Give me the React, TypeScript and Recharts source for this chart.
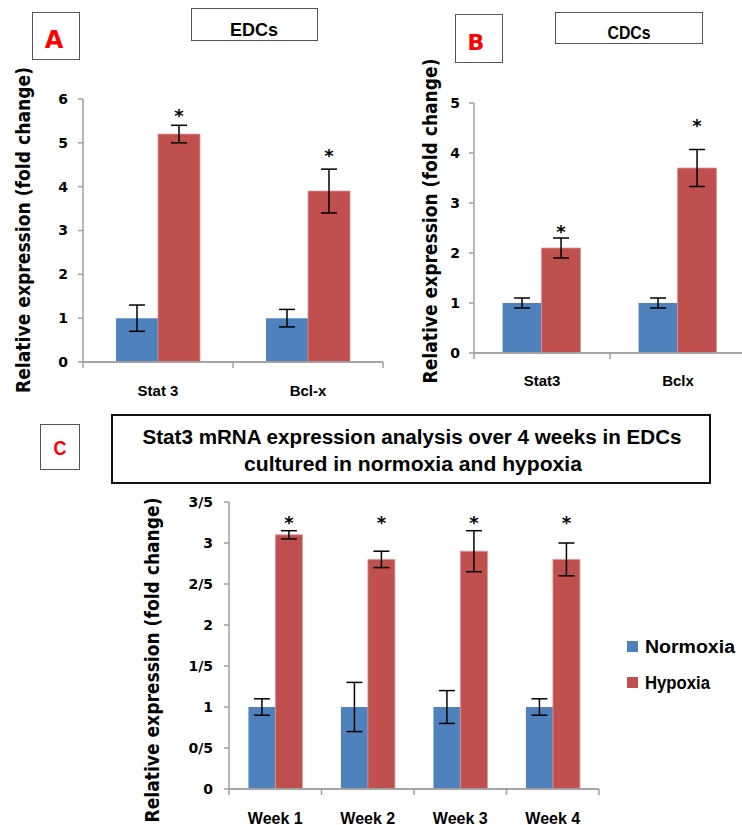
import React from "react";
import {
  BarChart,
  Bar,
  XAxis,
  YAxis,
  ErrorBar,
  LabelList,
  Legend,
  ReferenceLine,
} from "recharts";

// panel A - EDCs
const edcGenes = ["Stat 3", "Bcl-x"];
const edcNormoxia = [1, 1];
const edcNormoxiaErr = [0.3, 0.2];
const edcHypoxia = [5.2, 3.9];
const edcHypoxiaErr = [0.2, 0.5];
const edcStars = [5.7, 4.8];
const edcTicks = [0, 1, 2, 3, 4, 5, 6];

// panel B - CDCs
const cdcGenes = ["Stat3", "Bclx"];
const cdcNormoxia = [1, 1];
const cdcNormoxiaErr = [0.1, 0.1];
const cdcHypoxia = [2.1, 3.7];
const cdcHypoxiaErr = [0.2, 0.37];
const cdcStars = [2.5, 4.62];
const cdcTicks = [0, 1, 2, 3, 4, 5];

// panel C - Stat3 over 4 weeks
const weeks = ["Week 1", "Week 2", "Week 3", "Week 4"];
const weekNormoxia = [1, 1, 1, 1];
const weekNormoxiaErr = [0.1, 0.3, 0.2, 0.1];
const weekHypoxia = [3.1, 2.8, 2.9, 2.8];
const weekHypoxiaErr = [0.05, 0.1, 0.25, 0.2];
const weekStars = [3.29, 3.29, 3.29, 3.29];
const weekTicks = [0, 0.5, 1, 1.5, 2, 2.5, 3, 3.5];
const weekTickLabels = ["0", "0/5", "1", "1/5", "2", "2/5", "3", "3/5"];

const seriesNames = ["Normoxia", "Hypoxia"];

const BLUE = "#4f81bd";
const RED = "#c0504d";
const AXIS = "#a0a0a0";
const VERDANA = "'DejaVu Sans', Verdana, sans-serif";
const CALIBRI = "'Liberation Sans', Arial, sans-serif";

type Row = {
  name: string;
  norm: number;
  normErr: number;
  hyp: number;
  hypErr: number;
  star: number;
};

const buildRows = (
  names: string[],
  norm: number[],
  normErr: number[],
  hyp: number[],
  hypErr: number[],
  stars: number[]
): Row[] =>
  names.map((name, i) => ({
    name,
    norm: norm[i],
    normErr: normErr[i],
    hyp: hyp[i],
    hypErr: hypErr[i],
    star: stars[i],
  }));

const edcData = buildRows(edcGenes, edcNormoxia, edcNormoxiaErr, edcHypoxia, edcHypoxiaErr, edcStars);
const cdcData = buildRows(cdcGenes, cdcNormoxia, cdcNormoxiaErr, cdcHypoxia, cdcHypoxiaErr, cdcStars);
const weekData = buildRows(weeks, weekNormoxia, weekNormoxiaErr, weekHypoxia, weekHypoxiaErr, weekStars);

const starContent = (rows: Row[]) => (props: any) => {
  const { x, y, width, height, index } = props;
  const row = rows[index];
  if (!row || typeof y !== "number" || !height) return null;
  const base = y + height;
  const py = base - (row.star * height) / row.hyp;
  return (
    <text
      x={x + width / 2}
      y={py + 10}
      textAnchor="middle"
      fontSize={18}
      fontWeight="bold"
      fontFamily={VERDANA}
      fill="#000"
    >
      *
    </text>
  );
};

// category label plus the tick marks on the category boundaries (Excel style)
const catTick = (dy: number, size: number, band: number, count: number) => (props: any) => {
  const { x, y, payload, index } = props;
  const left = x - band / 2;
  const right = x + band / 2;
  const marks = `M${left},${y}V${y + 6}` + (index === count - 1 ? `M${right},${y}V${y + 6}` : "");
  return (
    <g>
      <path d={marks} stroke={AXIS} strokeWidth={1.5} fill="none" />
      <text
        x={x}
        y={y + dy}
        textAnchor="middle"
        dominantBaseline="central"
        fontSize={size}
        fontWeight="bold"
        fontFamily={CALIBRI}
        fill="#000"
      >
        {payload.value}
      </text>
    </g>
  );
};

const yLabel = (cx: number, cy: number, len: number) => () => (
  <text
    x={cx}
    y={cy}
    transform={`rotate(-90 ${cx} ${cy})`}
    textAnchor="middle"
    dominantBaseline="central"
    fontSize={20}
    fontWeight="bold"
    fontFamily={VERDANA}
    fill="#000"
    textLength={len}
    lengthAdjust="spacingAndGlyphs"
  >
    Relative expression (fold change)
  </text>
);

interface PanelProps {
  data: Row[];
  width: number;
  height: number;
  margin: { top: number; right: number; bottom: number; left: number };
  domain: [number, number];
  ticks: number[];
  tickFormatter?: (v: number, i: number) => string;
  tickMargin: number;
  gap: string;
  catDy: number;
  catSize: number;
  label: [number, number, number];
  legend?: boolean;
}

const LegendBox = () => (
  <svg width={115} height={60} style={{ overflow: "visible" }}>
    {seriesNames.map((s, i) => (
      <g key={s}>
        <rect x={0} y={i * 36} width={11} height={11} fill={i === 0 ? BLUE : RED} />
        <text
          x={18}
          y={i * 36 + 6}
          dominantBaseline="central"
          fontSize={18}
          fontWeight="bold"
          fontFamily={CALIBRI}
          textLength={i === 0 ? 90 : 65}
          lengthAdjust="spacingAndGlyphs"
        >
          {s}
        </text>
      </g>
    ))}
  </svg>
);

const Y_AXIS_WIDTH = 40;

const Panel = (p: PanelProps) => {
  const plotWidth = p.width - p.margin.left - p.margin.right - Y_AXIS_WIDTH;
  const band = plotWidth / p.data.length;
  return (
    <BarChart
      width={p.width}
      height={p.height}
      data={p.data}
      margin={p.margin}
      barGap={0}
      barCategoryGap={p.gap}
    >
      <XAxis
        dataKey="name"
        height={1}
        axisLine={{ stroke: AXIS, strokeWidth: 1.5 }}
        tickLine={false}
        tickSize={0}
        tickMargin={0}
        interval={0}
        tick={catTick(p.catDy, p.catSize, band, p.data.length)}
      />
      <YAxis
        width={Y_AXIS_WIDTH}
        domain={p.domain}
        ticks={p.ticks}
        interval={0}
        tickFormatter={p.tickFormatter}
        tickSize={5}
        tickMargin={p.tickMargin}
        axisLine={{ stroke: AXIS, strokeWidth: 1.5 }}
        tickLine={{ stroke: AXIS, strokeWidth: 1.5 }}
        tick={{ fontSize: 14, fontWeight: "bold", fontFamily: VERDANA, fill: "#000" }}
        label={{ content: yLabel(p.label[0], p.label[1], p.label[2]) }}
      />
      {p.legend && (
        <Legend
          layout="horizontal"
          verticalAlign="middle"
          content={() => <LegendBox />}
          wrapperStyle={{ position: "absolute", left: 627, top: 201, width: 115 }}
        />
      )}
      <Bar dataKey="norm" name={seriesNames[0]} fill={BLUE} isAnimationActive={false}>
        <ErrorBar dataKey="normErr" width={8} stroke="#000" strokeWidth={1.5} direction="y" isAnimationActive={false} />
      </Bar>
      <Bar dataKey="hyp" name={seriesNames[1]} fill={RED} stroke="#d99694" strokeWidth={0.8} isAnimationActive={false}>
        <ErrorBar dataKey="hypErr" width={8} stroke="#000" strokeWidth={1.5} direction="y" isAnimationActive={false} />
        <LabelList dataKey="star" content={starContent(p.data)} />
      </Bar>
      <ReferenceLine y={0} stroke={AXIS} strokeWidth={1.5} ifOverflow="visible" />
    </BarChart>
  );
};

const boxStyle = (
  left: number,
  top: number,
  width: number,
  height: number,
  border = "1.5px solid #555"
): React.CSSProperties => ({
  position: "absolute",
  left,
  top,
  width,
  height,
  border,
  boxSizing: "border-box",
  background: "#fff",
});

const svgFill: React.CSSProperties = {
  position: "absolute",
  left: 0,
  top: 0,
  width: "100%",
  height: "100%",
  overflow: "visible",
};

const App = () => (
  <div
    style={{
      position: "absolute",
      left: 0,
      top: 0,
      width: 742,
      height: 825,
      overflow: "hidden",
      background: "#fff",
    }}
  >
    <div style={{ position: "absolute", left: 0, top: 0 }}>
      <Panel
        data={edcData}
        width={400}
        height={420}
        margin={{ top: 99, right: 17, bottom: 57, left: 43 }}
        domain={[0, 6]}
        ticks={edcTicks}
        tickMargin={10}
        gap="22%"
        catDy={28}
        catSize={15}
        label={[23, 230, 326]}
      />
    </div>
    <div style={{ position: "absolute", left: 400, top: 0 }}>
      <Panel
        data={cdcData}
        width={346}
        height={420}
        margin={{ top: 103, right: 0, bottom: 66, left: 34 }}
        domain={[0, 5]}
        ticks={cdcTicks}
        tickMargin={9}
        gap="21%"
        catDy={27}
        catSize={15}
        label={[30, 221, 325]}
      />
    </div>
    <div style={{ position: "absolute", left: 0, top: 440 }}>
      <Panel
        data={weekData}
        width={742}
        height={385}
        margin={{ top: 62, right: 143, bottom: 35, left: 189 }}
        domain={[0, 3.5]}
        ticks={weekTicks}
        tickFormatter={(_v: number, i: number) => weekTickLabels[i]}
        tickMargin={11}
        gap="21%"
        catDy={29}
        catSize={16}
        label={[152, 220, 325]}
        legend
      />
    </div>

    {/* panel headers */}
    <div style={boxStyle(32, 12, 48, 48)}>
      <svg style={svgFill}>
        <text x={21} y={27} textAnchor="middle" dominantBaseline="central" fontSize={24} fontWeight="bold" fontFamily={VERDANA} fill="#ff0000">A</text>
      </svg>
    </div>
    <div style={boxStyle(191, 8, 127, 33)}>
      <svg style={svgFill}>
        <text x={62} y={21} textAnchor="middle" dominantBaseline="central" fontSize={18} fontWeight="bold" fontFamily={CALIBRI} textLength={48} lengthAdjust="spacingAndGlyphs">EDCs</text>
      </svg>
    </div>
    <div style={boxStyle(455, 14, 48, 49)}>
      <svg style={svgFill}>
        <text x={20} y={27} textAnchor="middle" dominantBaseline="central" fontSize={22} fontWeight="bold" fontFamily={VERDANA} fill="#ff0000">B</text>
      </svg>
    </div>
    <div style={boxStyle(555, 12, 148, 32)}>
      <svg style={svgFill}>
        <text x={73} y={20} textAnchor="middle" dominantBaseline="central" fontSize={18} fontWeight="bold" fontFamily={CALIBRI} textLength={43} lengthAdjust="spacingAndGlyphs">CDCs</text>
      </svg>
    </div>
    <div style={boxStyle(40, 424, 40, 46)}>
      <svg style={svgFill}>
        <text x={19} y={22} textAnchor="middle" dominantBaseline="central" fontSize={21} fontWeight="bold" fontFamily={CALIBRI} fill="#ff0000" textLength={13} lengthAdjust="spacingAndGlyphs">C</text>
      </svg>
    </div>
    <div style={boxStyle(111, 414, 600, 70, "2px solid #111")}>
      <svg style={svgFill}>
        <text x={299} y={21} textAnchor="middle" dominantBaseline="central" fontSize={20} fontWeight="bold" fontFamily={CALIBRI} textLength={539} lengthAdjust="spacingAndGlyphs">
          Stat3 mRNA expression analysis over 4 weeks in EDCs
        </text>
        <text x={300} y={48} textAnchor="middle" dominantBaseline="central" fontSize={20} fontWeight="bold" fontFamily={CALIBRI} textLength={338} lengthAdjust="spacingAndGlyphs">
          cultured in normoxia and hypoxia
        </text>
      </svg>
    </div>
  </div>
);

export default App;
